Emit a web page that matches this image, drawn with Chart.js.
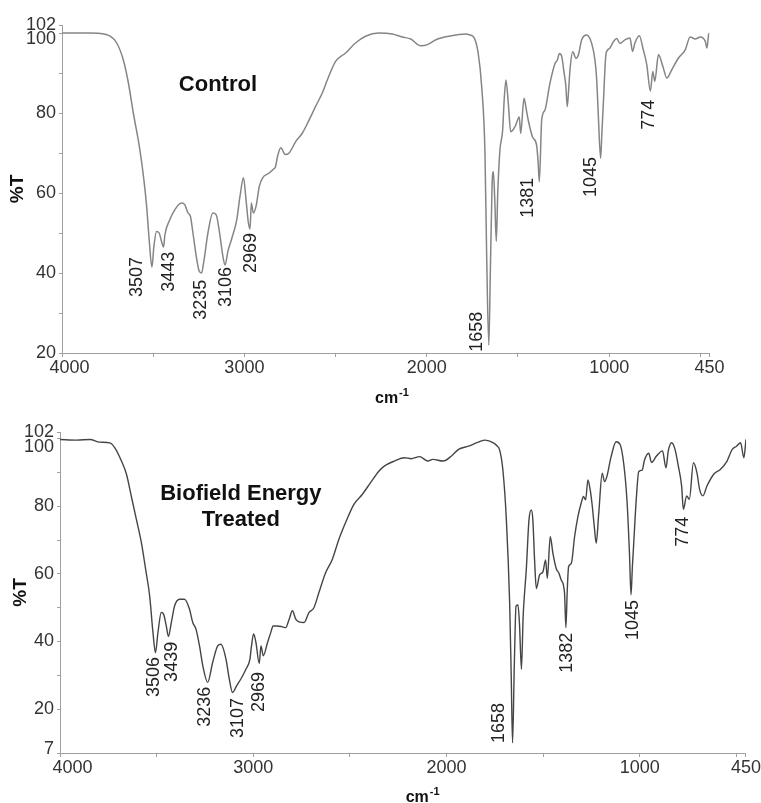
<!DOCTYPE html>
<html lang="en">
<head>
  <meta charset="UTF-8">
  <title>FT-IR spectra: Control vs Biofield Energy Treated</title>
  <script src="https://cdn.jsdelivr.net/npm/chart.js@4.4.0/dist/chart.umd.min.js"></script>
  <style>
    body { margin: 0; background: #fff; }
    .panel { position: absolute; left: 0; }
  </style>
</head>
<body>
  <canvas id="controlChart" class="panel" width="761" height="410" style="top:0"></canvas>
  <canvas id="treatedChart" class="panel" width="761" height="403" style="top:400px"></canvas>

  <script>
    // --- Spectrum data (wavenumber cm-1, %T) ---
    const controlWn = [4000, 3850, 3790, 3736, 3700, 3664, 3636, 3609, 3573, 3551, 3536, 3522, 3507, 3496, 3482, 3467, 3455, 3443, 3436, 3409, 3382, 3345, 3327, 3309, 3296, 3282, 3264, 3248, 3235, 3222, 3200, 3173, 3155, 3136, 3118, 3106, 3090, 3070, 3042, 3024, 3005, 2991, 2978, 2969, 2962, 2951, 2936, 2918, 2900, 2864, 2840, 2830, 2818, 2800, 2776, 2755, 2718, 2682, 2645, 2609, 2573, 2545, 2500, 2445, 2391, 2336, 2264, 2189, 2134, 2088, 2033, 1996, 1950, 1877, 1785, 1763, 1740, 1718, 1699, 1681, 1672, 1660, 1651, 1642, 1635, 1627, 1619, 1611, 1599, 1584, 1576, 1566, 1553, 1540, 1516, 1493, 1485, 1467, 1455, 1444, 1420, 1398, 1390, 1383, 1370, 1352, 1325, 1297, 1284, 1273, 1260, 1248, 1238, 1230, 1222, 1215, 1200, 1182, 1169, 1151, 1124, 1096, 1078, 1069, 1060, 1047, 1040, 1032, 1017, 999, 977, 959, 941, 914, 886, 872, 859, 835, 813, 794, 774, 761, 750, 730, 706, 684, 657, 620, 583, 556, 528, 501, 473, 464, 455, 450];
    const controlT = [100, 100, 99.9, 99.2, 97.5, 93.3, 87.5, 80, 70.8, 63.3, 56.7, 48.3, 41.5, 46.7, 50.4, 50, 48, 46.5, 49.5, 53.3, 55.8, 57.5, 57.1, 55, 54.2, 50, 44.2, 40.5, 40, 43, 50, 55, 54.6, 50, 44.2, 42, 45.5, 48.5, 53.3, 59.2, 63.8, 58.3, 52.5, 51, 57.5, 55, 56.7, 61.7, 63.8, 65, 66, 66.5, 69.2, 71.3, 69.6, 70, 72.9, 75, 78.3, 81.7, 85, 88.3, 92.9, 95, 97.5, 99.2, 100, 99.75, 99, 98.5, 96.8, 97.1, 98.3, 99.2, 99.75, 99.5, 98.8, 94.9, 86.6, 70, 45, 22, 41.7, 62, 65.3, 58, 47.9, 60, 70.75, 75.75, 83, 88.25, 82.4, 75.3, 76.6, 79, 74.9, 83.7, 81, 78.25, 74, 72, 68, 62.8, 78.25, 80.75, 87.4, 92.4, 93.25, 94.9, 94.1, 90.3, 87, 81.6, 86, 90.75, 95.3, 93.7, 94.5, 98.25, 99.5, 97.4, 93.25, 88.7, 79.9, 68.7, 75, 82.4, 94.9, 96.1, 97.8, 98.6, 97.4, 98.3, 98.75, 95.4, 97.5, 99.3, 95.8, 92.1, 85.5, 90.4, 87.9, 94.6, 91.7, 88.75, 90.8, 93.75, 95.8, 99, 98.5, 99, 97.9, 96.25, 99.6, 100];

    const treatedWn = [4000, 3914, 3845, 3794, 3742, 3716, 3682, 3656, 3631, 3605, 3579, 3557, 3536, 3519, 3506, 3493, 3476, 3464, 3450, 3439, 3424, 3407, 3381, 3356, 3330, 3313, 3296, 3278, 3261, 3236, 3210, 3184, 3167, 3141, 3124, 3107, 3086, 3064, 3038, 3017, 3009, 2998, 2986, 2969, 2960, 2948, 2926, 2909, 2897, 2875, 2852, 2832, 2814, 2797, 2780, 2763, 2737, 2711, 2686, 2660, 2625, 2591, 2557, 2522, 2479, 2436, 2393, 2350, 2322, 2270, 2217, 2183, 2139, 2096, 2070, 2017, 1974, 1939, 1887, 1835, 1800, 1757, 1740, 1725, 1708, 1690, 1673, 1665, 1658, 1649, 1640, 1630, 1622, 1612, 1603, 1595, 1587, 1573, 1561, 1553, 1544, 1535, 1518, 1501, 1487, 1478, 1463, 1449, 1432, 1418, 1406, 1389, 1382, 1375, 1368, 1354, 1337, 1320, 1303, 1291, 1280, 1268, 1256, 1246, 1235, 1225, 1212, 1194, 1182, 1170, 1148, 1122, 1101, 1079, 1065, 1053, 1045, 1038, 1032, 1018, 1005, 987, 975, 953, 939, 913, 882, 864, 852, 835, 817, 800, 783, 774, 757, 743, 722, 704, 690, 673, 652, 617, 583, 548, 522, 499, 478, 461, 450];
    const treatedT = [99.8, 99.6, 99.8, 99, 98.8, 97.3, 93.4, 89.5, 83, 76.2, 69.3, 61.4, 53.5, 42.7, 36.7, 42.7, 48.6, 48.1, 44.6, 41.5, 45.6, 50.5, 52.5, 52.5, 49.6, 45.6, 43.6, 38.7, 32.8, 27.9, 33.8, 38.7, 39.2, 34.8, 28.9, 24.9, 26.9, 28.9, 31.8, 34.8, 38.7, 42.2, 39.7, 33.5, 38.7, 35.8, 39.7, 42.7, 44.6, 44.6, 44.4, 44.1, 46.6, 49.1, 46.6, 45.8, 45.6, 48.6, 50, 54.5, 60.4, 64.3, 70.2, 75.2, 80.6, 83.5, 87, 90.4, 91.9, 93.4, 94.4, 94.1, 94.7, 93.4, 93.9, 93.4, 94.9, 96.8, 97.8, 99, 99.6, 98.8, 98, 96.7, 90.75, 76, 51.3, 30, 10, 32.8, 50.5, 50.8, 45, 31.8, 47.6, 55, 61.2, 76, 78.9, 76, 64.1, 55.7, 59.7, 60.6, 64.1, 58.7, 71, 66.1, 61.6, 60.2, 58.2, 54.3, 44.1, 55, 62.1, 63.1, 71, 76.9, 80.9, 82.9, 81.9, 87.8, 84.8, 80.4, 74, 69.1, 77.9, 89.8, 87.3, 88.8, 94.7, 99.1, 98.2, 90.75, 80.9, 66.1, 53.8, 62, 68, 81.9, 90.25, 90.75, 93.7, 95.7, 93, 94.9, 96.4, 91.4, 96.4, 98.8, 96.8, 91.9, 86, 79.1, 83.1, 82.1, 92.9, 90, 85, 83.1, 86, 89.5, 90.9, 93.4, 96.8, 97.8, 98.8, 94.4, 99.8];

    // --- Labelled peaks ---
    const controlPeaks = [3507, 3443, 3235, 3106, 2969, 1658, 1381, 1045, 774];
    const treatedPeaks = [3506, 3439, 3236, 3107, 2969, 1658, 1382, 1045, 774];

    // --- Axis ticks ---
    const xTicks = [4000, 3500, 3000, 2500, 2000, 1500, 1000, 500, 450];
    const xLabels = [4000, 3000, 2000, 1000, 450];
    const controlYTicks = [20, 30, 40, 50, 60, 70, 80, 90, 100, 102];
    const controlYLabels = [20, 40, 60, 80, 100, 102];
    const treatedYTicks = [7, 20, 30, 40, 50, 60, 70, 80, 90, 100, 102];
    const treatedYLabels = [7, 20, 40, 60, 80, 100, 102];

    const FONT = '"Liberation Sans", Arial, sans-serif';

    // Draws the panel title, rotated peak labels and the cm-1 axis title
    const spectrumText = {
      id: 'spectrumText',
      afterDraw(chart, args, opts) {
        const ctx = chart.ctx;
        const x = chart.scales.x, y = chart.scales.y;
        ctx.save();
        ctx.fillStyle = '#111';

        // panel title
        ctx.font = 'bold 22px ' + FONT;
        ctx.textAlign = 'center';
        ctx.textBaseline = 'alphabetic';
        const tx = x.getPixelForValue(opts.titleAt[0]);
        const ty = y.getPixelForValue(opts.titleAt[1]);
        opts.title.forEach((line, i) => ctx.fillText(line, tx, ty + i * 26));

        // peak labels, reading bottom to top, hanging under the dip
        ctx.font = '18px ' + FONT;
        ctx.fillStyle = '#222';
        opts.peaks.forEach((wn, i) => {
          ctx.save();
          ctx.translate(x.getPixelForValue(wn) + opts.labelDx[i], y.getPixelForValue(opts.labelTop[i]));
          ctx.rotate(-Math.PI / 2);
          ctx.textAlign = 'right';
          ctx.textBaseline = 'middle';
          ctx.fillText(String(wn), 0, 0);
          ctx.restore();
        });

        // x axis title: cm-1
        const ux = x.getPixelForValue(opts.unitAt);
        const uy = chart.chartArea.bottom + opts.unitDy;
        ctx.fillStyle = '#111';
        ctx.textAlign = 'left';
        ctx.textBaseline = 'alphabetic';
        ctx.font = 'bold 16px ' + FONT;
        ctx.fillText('cm', ux, uy);
        const w = ctx.measureText('cm').width;
        ctx.font = 'bold 11px ' + FONT;
        ctx.fillText('-1', ux + w + 1, uy - 7);
        ctx.restore();
      }
    };

    function buildChart(id, wn, t, cfg) {
      const points = wn.map((w, i) => ({ x: w, y: t[i] }));
      return new Chart(document.getElementById(id), {
        type: 'line',
        data: {
          datasets: [{
            data: points,
            borderColor: cfg.color,
            borderWidth: cfg.lineWidth,
            pointRadius: 0,
            cubicInterpolationMode: 'monotone',
            fill: false
          }]
        },
        options: {
          responsive: false,
          animation: false,
          layout: { padding: cfg.padding },
          plugins: {
            legend: { display: false },
            tooltip: { enabled: false },
            spectrumText: cfg.text
          },
          scales: {
            x: {
              type: 'linear',
              reverse: true,
              min: 450,
              max: 4000,
              afterBuildTicks: s => { s.ticks = xTicks.map(v => ({ value: v })); },
              afterFit: s => { s.height = cfg.xHeight; },
              ticks: {
                autoSkip: false,
                maxRotation: 0,
                padding: 0,
                color: '#333',
                font: { size: 18, family: FONT },
                callback: v => xLabels.includes(v) ? (v === 4000 ? cfg.firstPad + v : String(v)) : ''
              },
              grid: { drawOnChartArea: false, drawTicks: true, tickLength: 4, color: '#a0a0a0' },
              border: { color: '#a0a0a0' }
            },
            y: {
              min: cfg.yTicks[0],
              max: 102,
              afterBuildTicks: s => { s.ticks = cfg.yTicks.map(v => ({ value: v })); },
              afterFit: s => { s.width = cfg.yWidth; },
              title: {
                display: true,
                text: '%T',
                color: '#111',
                font: { size: 19, weight: 'bold', family: FONT },
                padding: { top: cfg.titlePad, bottom: 0 }
              },
              ticks: {
                autoSkip: false,
                padding: 3,
                color: '#333',
                font: { size: 18, family: FONT, lineHeight: cfg.yLineHeight },
                callback: v => cfg.yLabels.includes(v) ? cfg.nudge(v) : ''
              },
              grid: { drawOnChartArea: false, drawTicks: true, tickLength: 3, color: '#a0a0a0' },
              border: { color: '#a0a0a0' }
            }
          }
        },
        plugins: [spectrumText]
      });
    }

    // --- Control panel ---
    buildChart('controlChart', controlWn, controlT, {
      color: '#858585',
      lineWidth: 1.5,
      padding: { left: 0, top: 25, right: 51.5, bottom: 0 },
      xHeight: 57,
      yWidth: 62,
      titlePad: 6,
      firstPad: '   ',
      yTicks: controlYTicks,
      yLabels: controlYLabels,
      yLineHeight: '6px',
      nudge: v => v === 100 ? ['', '', '100'] : String(v),
      text: {
        title: ['Control'],
        titleAt: [3145, 85.5],
        peaks: controlPeaks,
        labelTop: [44, 45.3, 38.3, 41.5, 50, 30.3, 63.8, 69, 83.3],
        labelDx: [-14.5, 5, -1, 0.5, 0.5, -11.7, -11.4, -10.2, -1.4],
        unitAt: 2284,
        unitDy: 50
      }
    });

    // --- Biofield Energy Treated panel ---
    buildChart('treatedChart', treatedWn, treatedT, {
      color: '#454545',
      lineWidth: 1.4,
      padding: { left: 0, top: 32, right: 14, bottom: 0 },
      xHeight: 50,
      yWidth: 60,
      titlePad: 9.5,
      firstPad: '     ',
      yTicks: treatedYTicks,
      yLabels: treatedYLabels,
      yLineHeight: '8px',
      nudge: v => v === 100 ? ['', '', '100'] : (v === 7 ? ['7', ''] : String(v)),
      text: {
        title: ['Biofield Energy', 'Treated'],
        titleAt: [3064, 81.9],
        peaks: treatedPeaks,
        labelTop: [35.4, 39.9, 26.6, 23.3, 31, 21.8, 42.6, 52.3, 76.9],
        labelDx: [-1.5, 4, -3, 5, 0, -14, 1, 2.5, 0],
        unitAt: 2211,
        unitDy: 49
      }
    });
  </script>
</body>
</html>
